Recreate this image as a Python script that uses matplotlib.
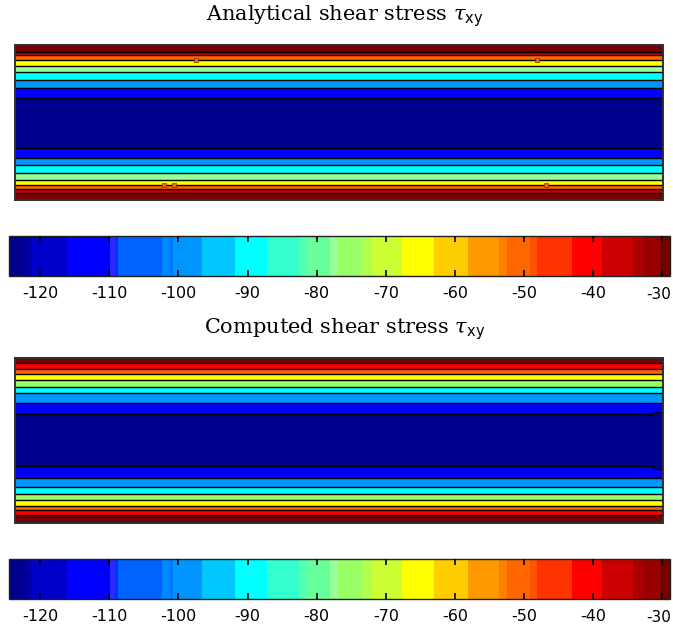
import numpy as np
import matplotlib
matplotlib.use("Agg")
import matplotlib.pyplot as plt
from matplotlib.colors import ListedColormap, BoundaryNorm
from matplotlib.cm import ScalarMappable

plt.rcParams['axes.unicode_minus'] = False
plt.rcParams['mathtext.fontset'] = 'dejavuserif'

# ---- colour scale (colorbar segments, tau in units of the chart) ----
cbar_bounds = [-124.5, -122.4, -122.0, -121.3, -116.1, -109.9, -109.2, -108.7,
               -102.4, -101.2, -100.8, -96.6, -91.8, -87.2, -82.6, -81.4,
               -78.1, -76.9, -73.5, -72.0, -67.7, -63.1, -58.1, -53.7, -52.5,
               -49.1, -48.2, -43.1, -38.8, -34.2, -32.7, -30.3, -28.9]
cbar_colors = ['#00008c', '#000099', '#0000a8', '#0000cd', '#0000ff', '#2a2aff',
               '#0033ff', '#0062ff', '#0088ff', '#0078ff', '#0095ff', '#00c8ff',
               '#00ffff', '#33ffcc', '#55ffb0', '#66ff99', '#99ff99', '#99ff66',
               '#b0ff50', '#ccff33', '#ffff00', '#ffcc00', '#ff9900', '#ff8000',
               '#ff6600', '#ff5200', '#ff3300', '#ff0000', '#cc0000', '#aa0000',
               '#990000', '#770000']
cbar_ticks = [-120, -110, -100, -90, -80, -70, -60, -50, -40, -30]
cbar_ticklabels = ['-120', '-110', '-100', '-90', '-80', '-70', '-60', '-50', '-40', '-30']

# ---- analytical field: band edges (fraction of height from top) and band values ----
anal_edges = [0, 0.043, 0.066, 0.096, 0.133, 0.171, 0.225, 0.276, 0.340,
              0.662, 0.726, 0.777, 0.829, 0.868, 0.906, 0.931, 0.957, 1.0]
anal_values = [-29.5, -36, -51, -65, -77.5, -89, -99, -113, -123,
               -113, -99, -89, -77.5, -65, -51, -36, -29.5]
# small contour islands on the analytical orange/yellow boundaries
anal_spot_x = [0.28, 0.805, 0.23, 0.245, 0.82]
anal_spot_y = [0.096, 0.096, 0.906, 0.906, 0.906]

# ---- computed field: band edges left part / right end part and values ----
comp_xbreak = 0.985
comp_edges_left = [0, 0.031, 0.064, 0.099, 0.136, 0.173, 0.21, 0.271, 0.341,
                   0.656, 0.729, 0.779, 0.824, 0.859, 0.897, 0.924, 0.953, 1.0]
comp_edges_right = [0, 0.031, 0.064, 0.099, 0.136, 0.173, 0.21, 0.271, 0.327,
                    0.672, 0.729, 0.779, 0.824, 0.859, 0.897, 0.924, 0.953, 1.0]
comp_values = [-29.5, -41, -51, -65, -75, -89, -99, -113, -123,
               -113, -99, -89, -75, -65, -51, -41, -29.5]

titles = [r'Analytical shear stress $\tau_{\mathsf{xy}}$',
          r'Computed shear stress $\tau_{\mathsf{xy}}$']

cmap = ListedColormap(cbar_colors)
norm = BoundaryNorm(cbar_bounds, cmap.N)

W, H = 673, 628
fig = plt.figure(figsize=(W / 100, H / 100), dpi=100)


def frac_box(x0, y0, x1, y1):
    return [x0 / W, 1 - y1 / H, (x1 - x0) / W, (y1 - y0) / H]


def draw_field(ax, segments, values):
    for xa, xb, edges in segments:
        y = 1 - np.asarray(edges)
        z = np.asarray(values, dtype=float).reshape(-1, 1)
        ax.pcolormesh([xa, xb], y, z, cmap=cmap, norm=norm, shading='flat')
    nb = len(segments[0][2])
    for k in range(1, nb - 1):
        xs, ys = [], []
        for xa, xb, edges in segments:
            xs += [xa, xb]
            ys += [1 - edges[k], 1 - edges[k]]
        ax.plot(xs, ys, color='black', lw=1.0, solid_joinstyle='miter')
    ax.set_xlim(0, 1)
    ax.set_ylim(0, 1)
    ax.set_xticks([])
    ax.set_yticks([])
    for s in ax.spines.values():
        s.set_color('#303030')
        s.set_linewidth(1.4)


def draw_cbar(cax):
    sm = ScalarMappable(norm=norm, cmap=cmap)
    cb = fig.colorbar(sm, cax=cax, orientation='horizontal',
                      spacing='proportional', ticks=cbar_ticks)
    cb.minorticks_off()
    cb.outline.set_linewidth(1.0)
    cb.outline.set_edgecolor('#202020')
    cax.set_axisbelow(False)
    cax.set_xticks(cbar_ticks)
    cax.set_xticklabels(cbar_ticklabels[:-1] + [''])
    cax.tick_params(axis='x', which='major', direction='in', top=True, bottom=True,
                    length=4, width=1.2, color='black', labelsize=11.5, pad=7)
    for lab in cax.get_xticklabels():
        lab.set_fontfamily('DejaVu Sans')
    # last label nudged left so that it stays inside the figure
    cax.annotate(cbar_ticklabels[-1], xy=(cbar_ticks[-1], 0),
                 xycoords=('data', 'axes fraction'), xytext=(-3, -7.6),
                 textcoords='offset points', ha='center', va='top',
                 fontsize=11, family='DejaVu Sans')


ax1 = fig.add_axes(frac_box(15, 45, 663, 200))
draw_field(ax1, [(0, 1, anal_edges)], anal_values)
ax1.plot(anal_spot_x, 1 - np.asarray(anal_spot_y), ls='none', marker='s',
         ms=2.5, mfc='#ff6600', mec='#803000', mew=0.5)
cax1 = fig.add_axes(frac_box(9, 236, 670, 276))
draw_cbar(cax1)

ax2 = fig.add_axes(frac_box(15, 358, 663, 523))
draw_field(ax2, [(0, comp_xbreak, comp_edges_left),
                 (comp_xbreak, 1, comp_edges_right)], comp_values)
cax2 = fig.add_axes(frac_box(9, 559, 670, 599))
draw_cbar(cax2)

fig.text(345 / W, 1 - 21 / H, titles[0], ha='center', va='baseline',
         fontsize=15, family='DejaVu Serif')
fig.text(345 / W, 1 - 334 / H, titles[1], ha='center', va='baseline',
         fontsize=15, family='DejaVu Serif')

fig.savefig('out.png', dpi=100, facecolor='white')
